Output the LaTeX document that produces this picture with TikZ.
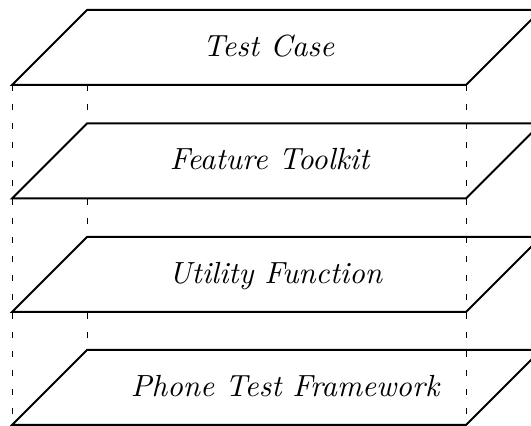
\documentclass[tikz,border=0pt]{standalone}
\usepackage{tikz}
\usepackage{graphicx}
\newcommand{\layerlabel}[1]{\scalebox{1.53}{\fontsize{10}{12}\selectfont\itshape #1}}
\tikzset{
  layer/.style={draw=black, fill=white, line width=1pt, line join=miter},
  guide/.style={draw=black, line width=0.45pt, dash pattern=on 3pt off 6.5pt},
  layertext/.style={anchor=base, inner sep=0pt}
}
\begin{document}
\begin{tikzpicture}[x=0.5pt, y=-0.5pt]
  \useasboundingbox (0,0) rectangle (531,426);
  \clip (0,0) rectangle (531,426);

  % corners of the stack
  \coordinate (tl) at (12,85);
  \coordinate (tb) at (87,85);
  \coordinate (tr) at (466,85);
  \coordinate (bl) at (12,425);
  \coordinate (bb) at (87,350);
  \coordinate (br) at (466,425);

  % hidden back edge
  \draw[guide] (tb) -- (bb);

  % the four layers, bottom edges at y = b
  \foreach \b in {85, 198.5, 312, 425}{
    \draw[layer] (12,\b) -- (466,\b) -- (541,\b-75) -- (87,\b-75) -- cycle;
  }

  % front edges
  \draw[guide] (tl) -- (bl);
  \draw[guide] (tr) -- (br);

  % layer labels
  \node[layertext] (t1) at (268.5,56.5) {\layerlabel{Test Case}};
  \node[layertext] (t2) at (269.5,170) {\layerlabel{Feature Toolkit}};
  \node[layertext] (t3) at (275.5,284) {\layerlabel{Utility Function}};
  \node[layertext] (t4) at (285,396.5) {\layerlabel{Phone Test Framework}};
\end{tikzpicture}
\end{document}
